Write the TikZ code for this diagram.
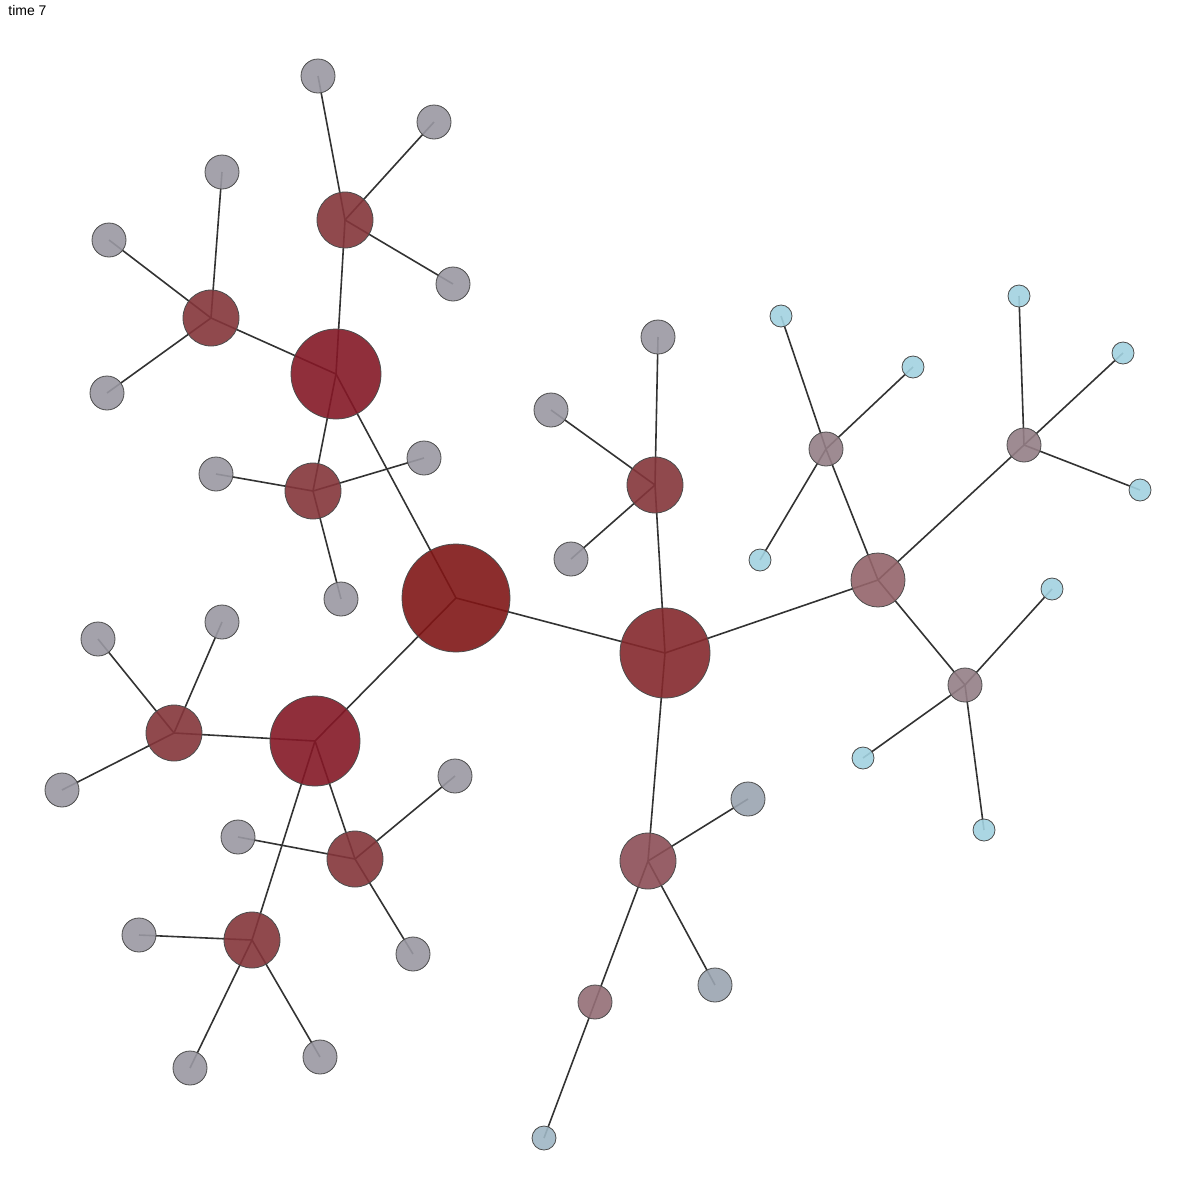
\documentclass[tikz,border=0pt]{standalone}
\usepackage{fontspec}
\setmainfont{Liberation Sans}
\pgfdeclarelayer{bg}
\pgfsetlayers{bg,main}
\definecolor{cA}{HTML}{801616}
\definecolor{cB}{HTML}{841826}
\definecolor{cC}{HTML}{84282C}
\definecolor{cM}{HTML}{84353A}
\definecolor{cP}{HTML}{8C4E56}
\definecolor{cQ}{HTML}{94646A}
\definecolor{cR}{HTML}{946E76}
\definecolor{cS}{HTML}{947E86}
\definecolor{cG}{HTML}{9A98A2}
\definecolor{cH}{HTML}{9AA4B0}
\definecolor{cI}{HTML}{9EB6C4}
\definecolor{cL}{HTML}{A2D2E0}
\definecolor{edgec}{HTML}{333333}
\tikzset{
  nd/.style={circle, draw=black!70, line width=0.4pt, fill opacity=0.9, inner sep=0pt, minimum size=#1},
  ed/.style={draw=edgec, line width=0.8pt},
}
\begin{document}
\begin{tikzpicture}[x=0.5pt,y=-0.5pt]
\useasboundingbox (0,0) rectangle (1200,1200);
\node[anchor=base west, inner sep=0pt, font=\fontsize{7}{8}\selectfont] (title) at (8,15) {time 7};
% hubs
\node[nd=54pt, fill=cA] (c0) at (456,598) {};
\node[nd=45pt, fill=cB] (a) at (336,374) {};
\node[nd=45pt, fill=cC] (b) at (665,653) {};
\node[nd=45pt, fill=cB] (d) at (315,741) {};
% A subtree
\node[nd=28pt, fill=cM] (a1) at (345,220) {};
\node[nd=28pt, fill=cM] (a2) at (211,318) {};
\node[nd=28pt, fill=cM] (a3) at (313,491) {};
\node[nd=17pt, fill=cG] (a11) at (318,76) {};
\node[nd=17pt, fill=cG] (a12) at (434,122) {};
\node[nd=17pt, fill=cG] (a13) at (453,284) {};
\node[nd=17pt, fill=cG] (a21) at (222,172) {};
\node[nd=17pt, fill=cG] (a22) at (109,240) {};
\node[nd=17pt, fill=cG] (a23) at (107,393) {};
\node[nd=17pt, fill=cG] (a31) at (216,474) {};
\node[nd=17pt, fill=cG] (a32) at (424,458) {};
\node[nd=17pt, fill=cG] (a33) at (341,599) {};
% D subtree
\node[nd=28pt, fill=cM] (d1) at (174,733) {};
\node[nd=28pt, fill=cM] (d2) at (355,859) {};
\node[nd=28pt, fill=cM] (d3) at (252,940) {};
\node[nd=17pt, fill=cG] (d11) at (98,639) {};
\node[nd=17pt, fill=cG] (d12) at (222,622) {};
\node[nd=17pt, fill=cG] (d13) at (62,790) {};
\node[nd=17pt, fill=cG] (d21) at (238,837) {};
\node[nd=17pt, fill=cG] (d22) at (455,776) {};
\node[nd=17pt, fill=cG] (d23) at (413,954) {};
\node[nd=17pt, fill=cG] (d31) at (139,935) {};
\node[nd=17pt, fill=cG] (d32) at (190,1068) {};
\node[nd=17pt, fill=cG] (d33) at (320,1057) {};
% B subtree
\node[nd=28pt, fill=cM] (b1) at (655,485) {};
\node[nd=28pt, fill=cP] (b2) at (648,861) {};
\node[nd=27pt, fill=cQ] (b3) at (878,580) {};
\node[nd=17pt, fill=cG] (b11) at (658,337) {};
\node[nd=17pt, fill=cG] (b12) at (551,410) {};
\node[nd=17pt, fill=cG] (b13) at (571,559) {};
\node[nd=17pt, fill=cH] (b21) at (748,799) {};
\node[nd=17pt, fill=cH] (b22) at (715,985) {};
\node[nd=17pt, fill=cR] (b23) at (595,1002) {};
\node[nd=12pt, fill=cI] (b231) at (544,1138) {};
\node[nd=17pt, fill=cS] (b31) at (826,449) {};
\node[nd=17pt, fill=cS] (b32) at (1024,445) {};
\node[nd=17pt, fill=cS] (b33) at (965,685) {};
\node[nd=11pt, fill=cL] (b311) at (781,316) {};
\node[nd=11pt, fill=cL] (b312) at (913,367) {};
\node[nd=11pt, fill=cL] (b313) at (760,560) {};
\node[nd=11pt, fill=cL] (b321) at (1019,296) {};
\node[nd=11pt, fill=cL] (b322) at (1123,353) {};
\node[nd=11pt, fill=cL] (b323) at (1140,490) {};
\node[nd=11pt, fill=cL] (b331) at (1052,589) {};
\node[nd=11pt, fill=cL] (b332) at (863,758) {};
\node[nd=11pt, fill=cL] (b333) at (984,830) {};
\begin{pgfonlayer}{bg}
\foreach \u/\v in {c0/a,c0/b,c0/d,
  a/a1,a/a2,a/a3,a1/a11,a1/a12,a1/a13,a2/a21,a2/a22,a2/a23,a3/a31,a3/a32,a3/a33,
  d/d1,d/d2,d/d3,d1/d11,d1/d12,d1/d13,d2/d21,d2/d22,d2/d23,d3/d31,d3/d32,d3/d33,
  b/b1,b/b2,b/b3,b1/b11,b1/b12,b1/b13,b2/b21,b2/b22,b2/b23,b23/b231,
  b3/b31,b3/b32,b3/b33,b31/b311,b31/b312,b31/b313,b32/b321,b32/b322,b32/b323,
  b33/b331,b33/b332,b33/b333}
  \draw[ed] (\u.center) -- (\v.center);
\end{pgfonlayer}
\end{tikzpicture}
\end{document}
